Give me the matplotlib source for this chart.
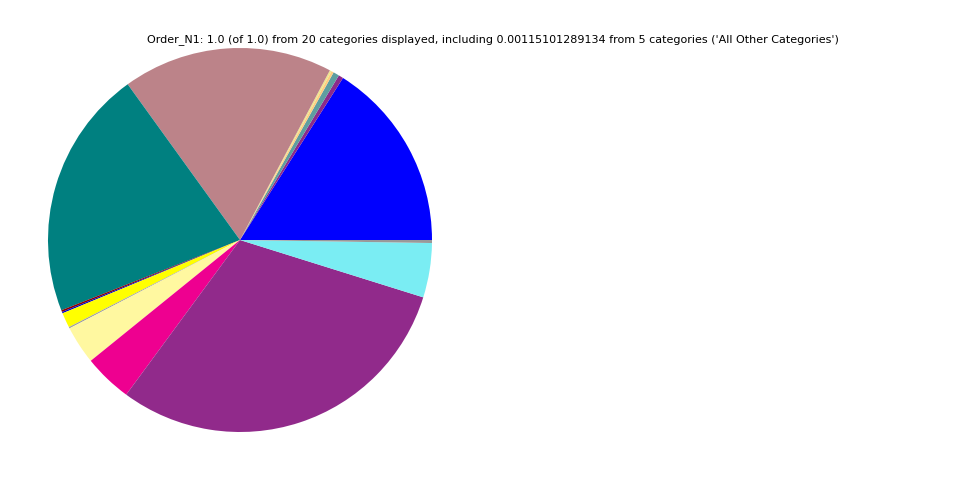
import matplotlib
matplotlib.use("Agg")
import matplotlib.pyplot as plt

categories = ["c01", "c02", "c03", "c04", "c05", "c06", "c07", "c08",
              "c09", "c10", "c11", "c12", "c13", "c14", "c15", "All Other Categories"]
values = [0.159, 0.004, 0.005, 0.002, 0.0015, 0.176, 0.209, 0.0015,
          0.0012, 0.0125, 0.0012, 0.032, 0.0405, 0.301, 0.0455, 0.0025]
colors = ["#0000FF", "#8B2A8B", "#5F9EA0", "#FFCC80", "#F0E68C", "#BC8389",
          "#008080", "#8B0000", "#0000CC", "#FFFF00", "#A0A0A0", "#FFF8A0",
          "#EE0090", "#912A8B", "#7AEDF3", "#999999"]
title = ("Order_N1: 1.0 (of 1.0) from 20 categories displayed, including "
         "0.00115101289134 from 5 categories ('All Other Categories')")

fig = plt.figure(figsize=(9.6, 4.8), dpi=100)
ax = fig.add_axes([0, 0, 0.5, 1])
ax.pie(values, colors=colors, startangle=0, counterclock=True)
ax.set_aspect("equal")
ax.set_xlim(-1.25, 1.25)
ax.set_ylim(-1.25, 1.25)

fig.text(0.513, 0.918, title, ha="center", va="center", fontsize=8)

fig.savefig("out.png", dpi=100)
